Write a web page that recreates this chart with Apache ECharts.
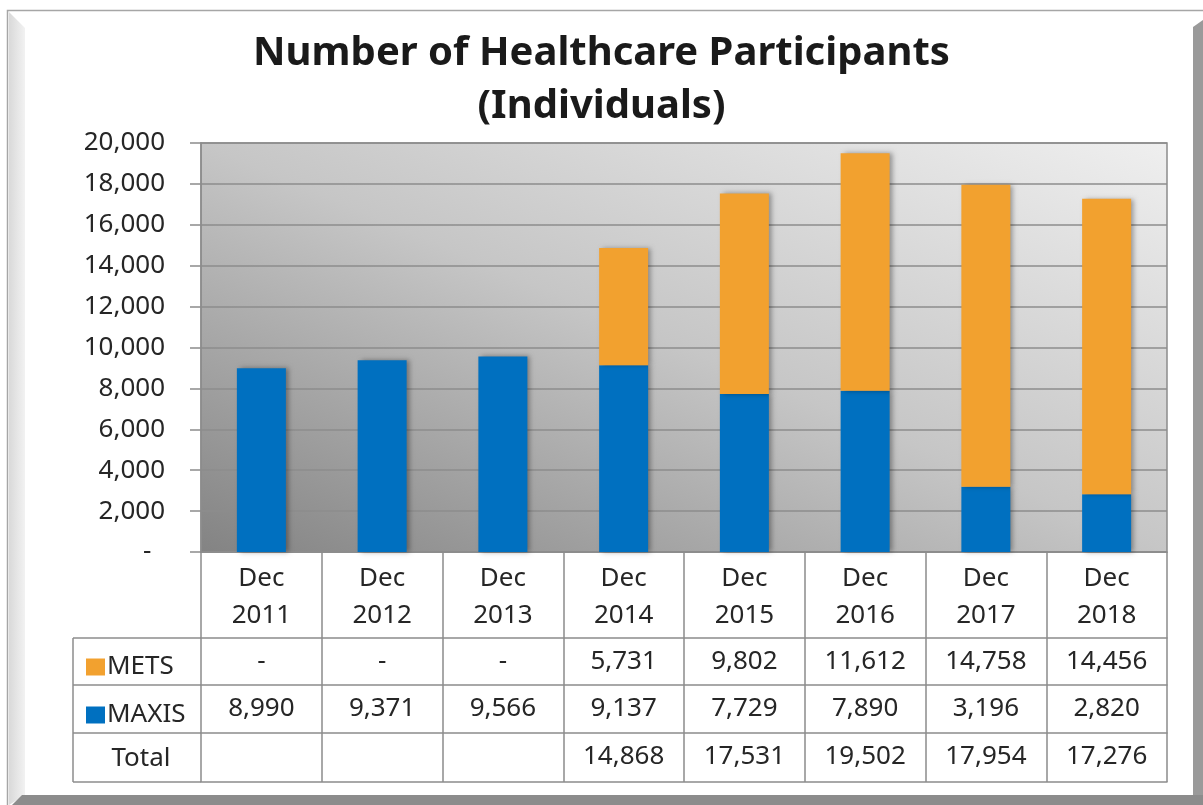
<!DOCTYPE html>
<html>
<head>
<meta charset="utf-8">
<script src="https://cdn.jsdelivr.net/npm/echarts@6/dist/echarts.min.js"></script>
<style>
html,body{margin:0;padding:0;background:#fff;}
#c{width:1203px;height:805px;}
</style>
</head>
<body>
<div id="c"></div>
<script>
// ---- data ----
const categories = ['Dec\n2011','Dec\n2012','Dec\n2013','Dec\n2014','Dec\n2015','Dec\n2016','Dec\n2017','Dec\n2018'];
const metsValues  = [null, null, null, 5731, 9802, 11612, 14758, 14456];
const maxisValues = [8990, 9371, 9566, 9137, 7729, 7890, 3196, 2820];
const totalValues = [null, null, null, 14868, 17531, 19502, 17954, 17276];
const yTicks = [0, 2000, 4000, 6000, 8000, 10000, 12000, 14000, 16000, 18000, 20000];

const FONT = '"Noto Sans", "Open Sans", sans-serif';
const TXT = '#262626';
const LINE = '#8c8c8c';
const fmt = v => (v === null || v === undefined) ? '' : v.toLocaleString('en-US');
const fmtDash = v => (v === null || v === undefined) ? '-' : v.toLocaleString('en-US');

// layout
const G = {left: 201, right: 36, top: 143, bottom: 253};
const plotBottom = 805 - G.bottom;        // 552
const headerH = 86;
const rowOff = [86, 133, 181, 230];       // row line offsets below plot
const legendLeft = 73;

function tableAxis(offset, tickLen, labels, showLabel) {
  return {
    type: 'category', data: categories, position: 'bottom', offset: offset,
    axisLine: {show: true, lineStyle: {color: LINE, width: 1.5}},
    axisTick: {show: tickLen > 0, length: tickLen, lineStyle: {color: LINE, width: 1.5}},
    axisLabel: {show: showLabel, margin: 11, fontFamily: FONT, fontSize: 26, color: TXT,
      formatter: (v, i) => labels ? labels[i] : ''},
    splitLine: {show: false}
  };
}

const chart = echarts.init(document.getElementById('c'), null, {renderer: 'canvas'});

const yMin = yTicks[0], yMax = yTicks[yTicks.length - 1], yStep = yTicks[1] - yTicks[0];

const rowY = rowOff.map(o => plotBottom + o);
const graphics = [
  // frame
  {type: 'rect', shape: {x: 7.5, y: 10.5, width: 1200, height: 800}, style: {fill: 'none', stroke: '#a6a6a6', lineWidth: 1.5}, z: 1},
  {type: 'polygon', shape: {points: [[9, 12], [25, 28], [25, 795], [9, 805]]},
    style: {fill: new echarts.graphic.LinearGradient(0, 0, 1, 0, [{offset: 0, color: '#d9d9d9'}, {offset: 1, color: '#f2f2f2'}])}, z: 1},
  {type: 'polygon', shape: {points: [[1193, 27], [1203, 20], [1203, 805], [1193, 805]]}, style: {fill: '#9a9a9a'}, z: 1},
  {type: 'polygon', shape: {points: [[22, 795], [1203, 795], [1203, 805], [12, 805]]}, style: {fill: '#8c8c8c'}, z: 1},
  // legend column lines
  ...rowY.map(y => ({type: 'line', shape: {x1: legendLeft, y1: y, x2: G.left, y2: y}, style: {stroke: LINE, lineWidth: 1.5}, z: 5})),
  {type: 'line', shape: {x1: legendLeft, y1: rowY[0], x2: legendLeft, y2: rowY[3]}, style: {stroke: LINE, lineWidth: 1.5}, z: 5},
  {type: 'text', style: {text: 'Total', x: (legendLeft + G.left) / 2 + 4, y: (rowY[2] + rowY[3]) / 2 + 1, align: 'center', verticalAlign: 'middle',
    font: '26px ' + FONT, fill: TXT}, z: 5}
];

chart.setOption({
  animation: false,
  backgroundColor: '#ffffff',
  title: {
    text: 'Number of Healthcare Participants\n(Individuals)',
    left: 'center', top: 22,
    textStyle: {fontFamily: FONT, fontSize: 40, fontWeight: 'bold', color: '#1a1a1a', lineHeight: 53}
  },
  legend: {
    data: ['METS', 'MAXIS'], orient: 'vertical', left: 81, top: rowY[0] + 11,
    itemWidth: 19, itemHeight: 17, itemGap: 22, icon: 'rect',
    textStyle: {fontFamily: FONT, fontSize: 26, color: TXT, lineHeight: 26, padding: [0, 0, 0, -3]}
  },
  grid: {
    left: G.left, right: G.right, top: G.top, bottom: G.bottom, show: true,
    borderColor: LINE, borderWidth: 1.5,
    backgroundColor: new echarts.graphic.LinearGradient(0.348, 1.347, 0.652, -0.347, [
      {offset: 0, color: '#838383'},
      {offset: 0.5, color: '#c6c6c6'},
      {offset: 1, color: '#efefef'}
    ])
  },
  xAxis: [
    {
      type: 'category', data: categories, position: 'bottom',
      axisLine: {show: true, lineStyle: {color: LINE, width: 1.5}},
      axisTick: {show: true, length: headerH, lineStyle: {color: LINE, width: 1.5}},
      axisLabel: {margin: 8, fontFamily: FONT, fontSize: 26, color: TXT, lineHeight: 37},
      splitLine: {show: false}
    },
    tableAxis(rowOff[0], rowOff[1] - rowOff[0], metsValues.map(fmtDash), true),
    tableAxis(rowOff[1], rowOff[2] - rowOff[1], maxisValues.map(fmtDash), true),
    tableAxis(rowOff[2], rowOff[3] - rowOff[2], totalValues.map(fmt), true),
    tableAxis(rowOff[3], 0, null, false)
  ],
  yAxis: {
    type: 'value', min: yMin, max: yMax, interval: yStep,
    axisLine: {show: true, lineStyle: {color: LINE, width: 1.5}},
    axisTick: {show: true, length: 11, lineStyle: {color: LINE, width: 1.5}},
    axisLabel: {margin: 36, fontFamily: FONT, fontSize: 26, color: TXT,
      formatter: v => v === 0 ? '-  ' : v.toLocaleString('en-US')},
    splitLine: {show: true, lineStyle: {color: LINE, width: 1.5}}
  },
  series: [
    {
      name: 'MAXIS', type: 'bar', stack: 'total', data: maxisValues, barWidth: 49,
      itemStyle: {color: '#0070c0', shadowColor: 'rgba(0,0,0,0.35)', shadowBlur: 5, shadowOffsetX: 3}
    },
    {
      name: 'METS', type: 'bar', stack: 'total', data: metsValues, barWidth: 49,
      itemStyle: {color: '#f2a12f', shadowColor: 'rgba(0,0,0,0.35)', shadowBlur: 5, shadowOffsetX: 3}
    }
  ],
  graphic: graphics
});
</script>
</body>
</html>
